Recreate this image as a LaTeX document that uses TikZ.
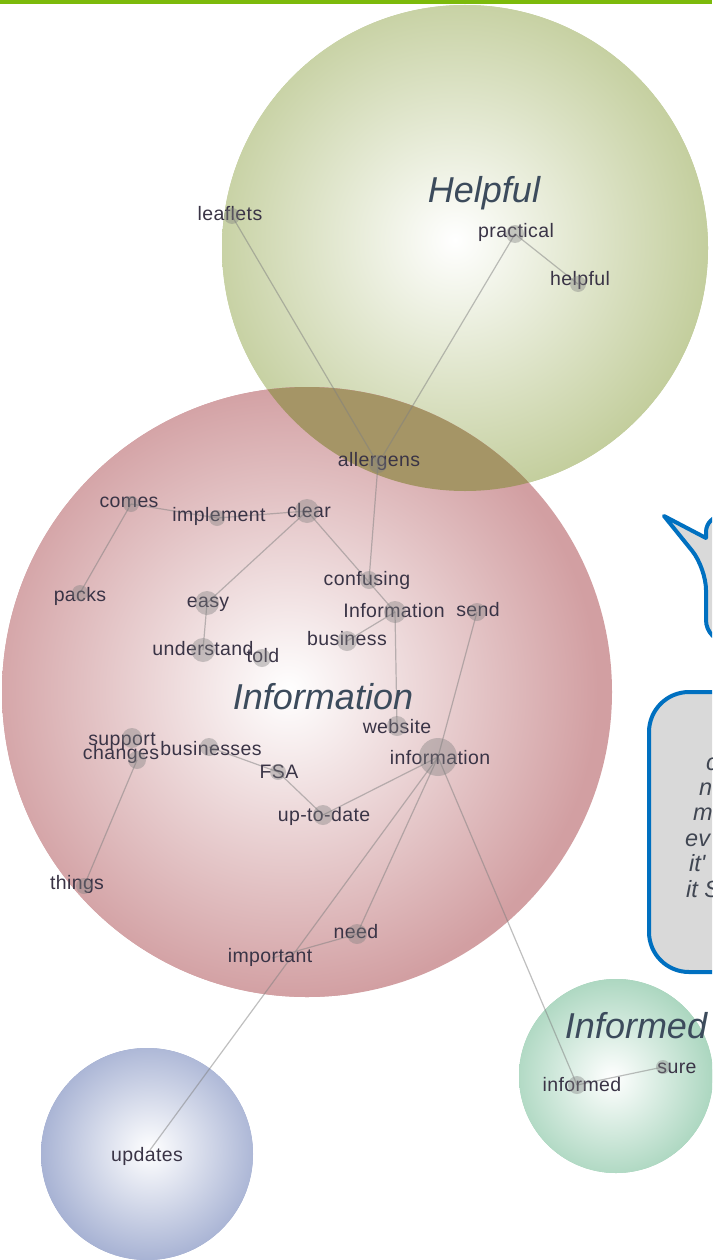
\documentclass[tikz,border=0pt]{standalone}
\usepackage{fontspec}
\setmainfont{Liberation Sans}
\newfontfamily\quotefont[Ligatures=TeXOff]{Liberation Sans}
\definecolor{helpcol}{HTML}{C2CD9B}
\definecolor{infocol}{HTML}{D29FA2}
\definecolor{overcol}{HTML}{A59566}
\definecolor{informcol}{HTML}{9CCFB4}
\definecolor{updcol}{HTML}{98A5CC}
\definecolor{barcol}{HTML}{7CBA0B}
\definecolor{calloutfill}{HTML}{D9D9D9}
\definecolor{calloutline}{HTML}{0070C0}
\definecolor{labelcol}{HTML}{3C4B5C}
\definecolor{wordcol}{HTML}{3A3446}
\definecolor{quotecol}{HTML}{404652}
\tikzset{
  word/.style={font=\fontsize{19.5}{22}\selectfont\addfontfeatures{LetterSpace=2}, text=wordcol, inner sep=0pt},
  cluster/.style={font=\fontsize{36}{40}\selectfont\itshape, text=labelcol, inner sep=0pt},
  edge/.style={draw=gray, draw opacity=0.5, line width=1.2pt},
  dot/.style={fill=gray, fill opacity=0.4},
  callout/.style={fill=calloutfill, draw=calloutline, line width=4pt, line join=round},
  quote/.style={font=\quotefont\fontsize{23.5}{25}\selectfont\itshape, text=quotecol, inner sep=0pt, anchor=base west}
}
\begin{document}
\begin{tikzpicture}[x=1pt,y=-1pt]
\useasboundingbox (0,0) rectangle (712,1260);
\clip (0,0) rectangle (712,1260);
\fill[white] (0,0) rectangle (712,1260);

% clusters
\fill[helpcol] (465,248) circle[radius=243pt];
\begin{scope}
  \clip (465,248) circle[radius=243pt];
  \shade[inner color=white, outer color=helpcol] (455,240) circle[radius=260pt];
\end{scope}
\fill[infocol] (307,692) circle[radius=305pt];
\begin{scope}
  \clip (307,692) circle[radius=305pt];
  \shade[inner color=white, outer color=infocol] (288,690) circle[radius=310pt];
\end{scope}
\begin{scope}
  \clip (465,248) circle[radius=243pt];
  \fill[overcol] (307,692) circle[radius=305pt];
\end{scope}
\fill[informcol] (616,1076) circle[radius=97pt];
\begin{scope}
  \clip (616,1076) circle[radius=97pt];
  \shade[inner color=white, outer color=informcol] (612,1078) circle[radius=120pt];
\end{scope}
\fill[updcol] (147,1154) circle[radius=106pt];
\begin{scope}
  \clip (147,1154) circle[radius=106pt];
  \shade[inner color=white, outer color=updcol] (150,1150) circle[radius=130pt];
\end{scope}

% word positions
\coordinate (leaflets) at (232,216);
\coordinate (practical) at (515,234);
\coordinate (helpful) at (578,284);
\coordinate (allergens) at (378,464);
\coordinate (comes) at (131,504);
\coordinate (implement) at (217,518);
\coordinate (clear) at (307,511);
\coordinate (confusing) at (369,580);
\coordinate (packs) at (80,593);
\coordinate (easy) at (207,603);
\coordinate (Information) at (395,612);
\coordinate (send) at (477,612);
\coordinate (business) at (347,641);
\coordinate (understand) at (203,650);
\coordinate (told) at (262,658);
\coordinate (website) at (397,726);
\coordinate (information) at (438,757);
\coordinate (support) at (132,738);
\coordinate (changes) at (137,760);
\coordinate (businesses) at (209,747);
\coordinate (FSA) at (278,772);
\coordinate (uptodate) at (323,815);
\coordinate (things) at (84,886);
\coordinate (need) at (357,934);
\coordinate (important) at (272,958);
\coordinate (informed) at (577,1085);
\coordinate (sure) at (663,1067);
\coordinate (updates) at (150,1150);

% connectors
\draw[edge] (leaflets) -- (allergens);
\draw[edge] (practical) -- (allergens);
\draw[edge] (practical) -- (helpful);
\draw[edge] (allergens) -- (confusing);
\draw[edge] (comes) -- (implement);
\draw[edge] (implement) -- (clear);
\draw[edge] (comes) -- (packs);
\draw[edge] (clear) -- (easy);
\draw[edge] (clear) -- (Information);
\draw[edge] (easy) -- (understand);
\draw[edge] (Information) -- (business);
\draw[edge] (Information) -- (website);
\draw[edge] (send) -- (information);
\draw[edge] (businesses) -- (FSA);
\draw[edge] (FSA) -- (uptodate);
\draw[edge] (uptodate) -- (information);
\draw[edge] (changes) -- (things);
\draw[edge] (information) -- (need);
\draw[edge] (information) -- (updates);
\draw[edge] (need) -- (important);
\draw[edge] (information) -- (informed);
\draw[edge] (informed) -- (sure);

% word labels
\node[word] (t-leaflets) at (230,214) {leaflets};
\node[word] (t-practical) at (516,232) {practical};
\node[word] (t-helpful) at (580,280) {helpful};
\node[word] (t-allergens) at (379,461) {allergens};
\node[word] (t-comes) at (129,502) {comes};
\node[word] (t-implement) at (219,516) {implement};
\node[word] (t-clear) at (309,511) {clear};
\node[word] (t-confusing) at (367,580) {confusing};
\node[word] (t-packs) at (80,596) {packs};
\node[word] (t-easy) at (208,604) {easy};
\node[word] (t-Information) at (394,611) {Information};
\node[word] (t-send) at (478,610) {send};
\node[word] (t-business) at (347,639) {business};
\node[word] (t-understand) at (203,649) {understand};
\node[word] (t-told) at (263,656) {told};
\node[word] (t-website) at (397,727) {website};
\node[word] (t-information) at (440,758) {information};
\node[word] (t-support) at (122,741) {support};
\node[word] (t-changes) at (121,754) {changes};
\node[word] (t-businesses) at (211,749) {businesses};
\node[word] (t-FSA) at (279,772) {FSA};
\node[word] (t-uptodate) at (324,816) {up-to-date};
\node[word] (t-things) at (77,884) {things};
\node[word] (t-need) at (356,932) {need};
\node[word] (t-important) at (270,957) {important};
\node[word] (t-informed) at (582,1085) {informed};
\node[word] (t-sure) at (677,1068) {sure};
\node[word] (t-updates) at (147,1156) {updates};

% dots
\fill[dot] (leaflets) circle[radius=8pt];
\fill[dot] (practical) circle[radius=9pt];
\fill[dot] (helpful) circle[radius=8pt];
\fill[dot] (allergens) circle[radius=9pt];
\fill[dot] (comes) circle[radius=8pt];
\fill[dot] (implement) circle[radius=8pt];
\fill[dot] (clear) circle[radius=12pt];
\fill[dot] (confusing) circle[radius=9pt];
\fill[dot] (packs) circle[radius=8pt];
\fill[dot] (easy) circle[radius=12pt];
\fill[dot] (Information) circle[radius=11pt];
\fill[dot] (send) circle[radius=9pt];
\fill[dot] (business) circle[radius=10pt];
\fill[dot] (understand) circle[radius=12pt];
\fill[dot] (told) circle[radius=9pt];
\fill[dot] (website) circle[radius=10pt];
\fill[dot] (information) circle[radius=19pt];
\fill[dot] (support) circle[radius=10pt];
\fill[dot] (changes) circle[radius=9pt];
\fill[dot] (businesses) circle[radius=9pt];
\fill[dot] (FSA) circle[radius=8pt];
\fill[dot] (uptodate) circle[radius=10pt];
\fill[dot] (things) circle[radius=8pt];
\fill[dot] (need) circle[radius=10pt];
\fill[dot] (informed) circle[radius=9pt];
\fill[dot] (sure) circle[radius=7pt];

% cluster labels
\node[cluster] (l-helpful) at (484,193) {Helpful};
\node[cluster] (l-information) at (323,697) {Information};
\node[cluster] (l-informed) at (636,1026) {Informed};

% callouts
\draw[callout] (664,516) -- (706,538) [rounded corners=16pt] -- (706,516) -- (790,516) [sharp corners] -- (790,642) [rounded corners=22pt] -- (706,642) -- (706,568) [sharp corners] -- cycle;
\draw[callout, rounded corners=40pt] (649,692) rectangle (820,972);
\node[quote] (q1) at (706,770) {c};
\node[quote] (q2) at (699,795.4) {n};
\node[quote] (q3) at (693,820.8) {m};
\node[quote] (q4) at (685,846.2) {ev};
\node[quote] (q5) at (689,871.6) {it'};
\node[quote] (q6) at (686,897) {it S};

% top bar
\fill[barcol] (0,0) rectangle (712,4);
\end{tikzpicture}
\end{document}
